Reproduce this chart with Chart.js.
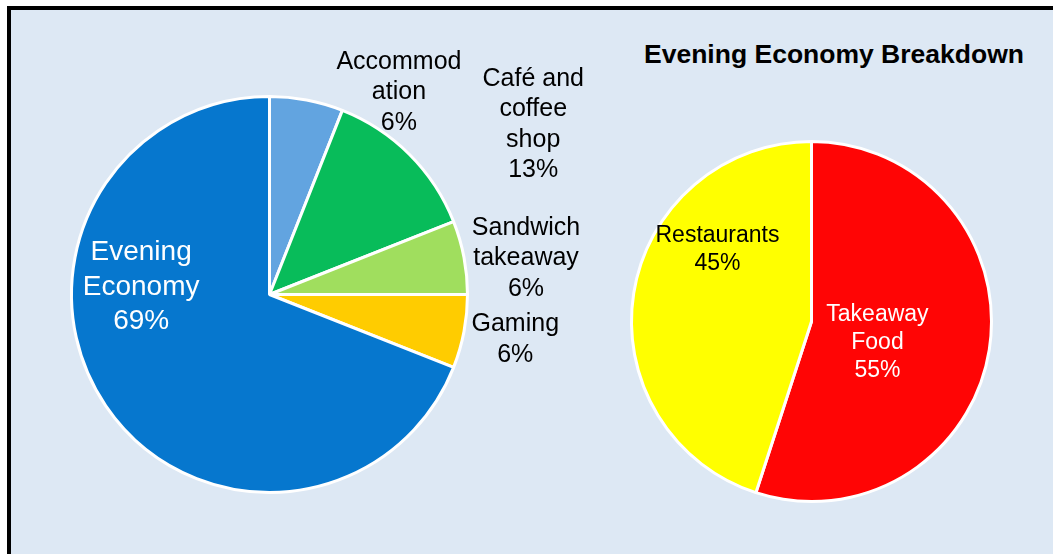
<!doctype html>
<html lang="en">
  <head>
    <meta charset="utf-8">
    <title>Evening Economy</title>
    <style>
      * { margin: 0; padding: 0; }
      body {
        width: 1053px;
        height: 554px;
        overflow: hidden;
        background: #fff;
        font-family: "Liberation Sans", Arial, sans-serif;
      }
      .panel {
        position: absolute;
        left: 7px;
        top: 6px;
        width: 1100px;
        height: 600px;
        border: 4px solid #000;
        background: #dde8f4;
      }
      .chartBox {
        position: absolute;
        left: 0;
        top: 0;
        width: 1053px;
        height: 554px;
      }
      .title {
        position: absolute;
        left: 634px;
        width: 400px;
        top: 39px;
        text-align: center;
        font-weight: bold;
        font-size: 26.5px;
        color: #000;
      }
    </style>
  </head>
  <body>
    <div class="panel"></div>
    <div class="title">Evening Economy Breakdown</div>
    <div class="chartBox"><canvas id="mainPie"></canvas></div>
    <div class="chartBox"><canvas id="breakdownPie"></canvas></div>

    <script src="https://cdn.jsdelivr.net/npm/chart.js/dist/chart.umd.min.js"></script>
    <script>
    // data
    const mainCategories = ['Accommodation', 'Café and coffee shop', 'Sandwich takeaway', 'Gaming', 'Evening Economy'];
    const mainValues = [6, 13, 6, 6, 69];
    const mainColors = ['#62a4e0', '#08bc5a', '#a0de5e', '#ffcc00', '#0677ce'];
    // wrapped the way the original labels wrap
    const mainLabelLines = [['Accommod', 'ation'], ['Café and', 'coffee', 'shop'], ['Sandwich', 'takeaway'], ['Gaming'], ['Evening', 'Economy']];

    const breakdownCategories = ['Takeaway Food', 'Restaurants'];
    const breakdownValues = [55, 45];
    const breakdownColors = ['#ff0505', '#ffff00'];
    const breakdownLabelLines = [['Takeaway', 'Food'], ['Restaurants']];

    // label placement: angle from 12 o'clock (deg, clockwise) and distance in radii
    const mainLabelPlace = [[32.4, 1.22], [56.9, 1.59], [81.5, 1.31], [99.9, 1.26], [274.2, 0.65]];
    const mainLabelColor = ['#000', '#000', '#000', '#000', '#fff'];
    const mainLabelFont = [25, 25, 25, 25, 28];
    const mainLabelLead = [30.5, 30.5, 30.5, 30.5, 34.5];

    const breakdownLabelPlace = [[106.9, 0.383], [307.8, 0.661]];
    const breakdownLabelColor = ['#fff', '#000'];
    const breakdownLabelFont = [23, 23];
    const breakdownLabelLead = [28, 28];

    // draws the text labels from each arc's own centre and radius
    const sliceLabels = {
      id: 'sliceLabels',
      afterDatasetsDraw(chart, args, opts) {
        const { ctx } = chart;
        const meta = chart.getDatasetMeta(0);
        const values = chart.data.datasets[0].data;
        ctx.save();
        ctx.textAlign = 'center';
        ctx.textBaseline = 'middle';
        meta.data.forEach((arc, i) => {
          const { x, y, outerRadius } = arc.getProps(['x', 'y', 'outerRadius'], true);
          const [deg, dist] = opts.place[i];
          const a = deg * Math.PI / 180;
          const cx = x + Math.sin(a) * dist * outerRadius;
          const cy = y - Math.cos(a) * dist * outerRadius + (opts.shift || 0);
          const lines = opts.lines[i].concat([values[i] + '%']);
          const lead = opts.lead[i];
          ctx.fillStyle = opts.color[i];
          ctx.font = opts.font[i] + 'px "Liberation Sans", Arial, sans-serif';
          const top = cy - (lines.length - 1) * lead / 2;
          lines.forEach((t, k) => ctx.fillText(t, cx, top + k * lead));
        });
        ctx.restore();
      }
    };

    new Chart(document.getElementById('mainPie'), {
      type: 'pie',
      data: {
        labels: mainCategories,
        datasets: [{
          data: mainValues,
          backgroundColor: mainColors,
          borderColor: '#ffffff',
          borderWidth: 3
        }]
      },
      options: {
        responsive: true,
        maintainAspectRatio: false,
        animation: false,
        layout: { padding: { left: 70, top: 95, right: 584, bottom: 60 } },
        plugins: {
          legend: { display: false },
          tooltip: { enabled: false },
          sliceLabels: {
            place: mainLabelPlace, lines: mainLabelLines, color: mainLabelColor,
            font: mainLabelFont, lead: mainLabelLead, shift: 2
          }
        }
      },
      plugins: [sliceLabels]
    });

    new Chart(document.getElementById('breakdownPie'), {
      type: 'pie',
      data: {
        labels: breakdownCategories,
        datasets: [{
          data: breakdownValues,
          backgroundColor: breakdownColors,
          borderColor: '#ffffff',
          borderWidth: 3
        }]
      },
      options: {
        responsive: true,
        maintainAspectRatio: false,
        animation: false,
        layout: { padding: { left: 630, top: 140, right: 60, bottom: 51 } },
        plugins: {
          legend: { display: false },
          tooltip: { enabled: false },
          sliceLabels: {
            place: breakdownLabelPlace, lines: breakdownLabelLines, color: breakdownLabelColor,
            font: breakdownLabelFont, lead: breakdownLabelLead, shift: 1
          }
        }
      },
      plugins: [sliceLabels]
    });
    </script>
  </body>
</html>
